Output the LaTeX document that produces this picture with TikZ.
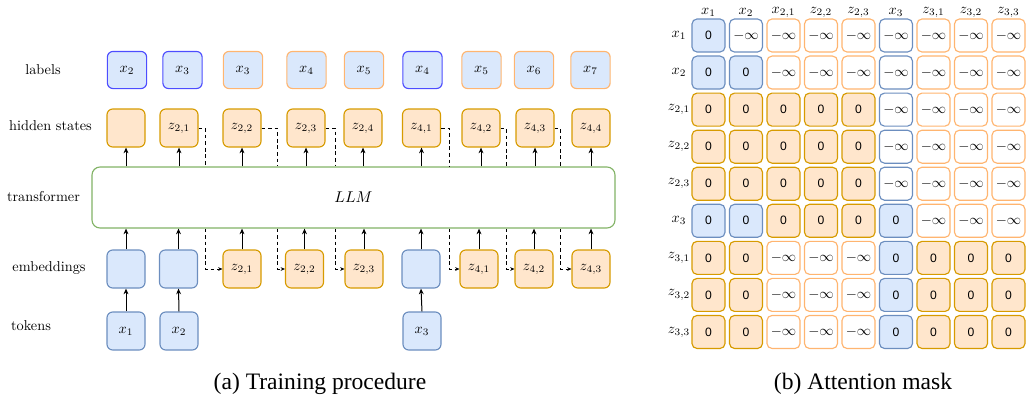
\documentclass[tikz,border=0pt]{standalone}
\usepackage{fontspec}
\newfontfamily\cellfont{Liberation Sans}
\newfontfamily\capfont{Liberation Serif}
\usetikzlibrary{arrows.meta}
\definecolor{bluefill}{HTML}{DAE8FC}
\definecolor{blueline}{HTML}{6C8EBF}
\definecolor{brightblue}{HTML}{4D4DFF}
\definecolor{orangefill}{HTML}{FFE6CC}
\definecolor{orangeline}{HTML}{D79B00}
\definecolor{paleorange}{HTML}{FFB570}
\definecolor{greenline}{HTML}{82B366}

% contents of the attention-mask cells
\newcommand\txtB{\cellfont\fontsize{8.5}{9}\selectfont 0}
\newcommand\txtO{\cellfont\fontsize{8.5}{9}\selectfont 0}
\newcommand\txtb{$-\infty$}
\newcommand\txto{$-\infty$}

\begin{document}
\begin{tikzpicture}[x=0.7pt,y=-0.7pt,
  box/.style={rounded corners=4pt, minimum width=26.6pt, minimum height=26.6pt,
    line width=0.8pt, inner sep=0pt},
  lab/.style={box, minimum width=27.5pt, minimum height=26pt},
  labblue/.style={lab, fill=bluefill, draw=brightblue},
  labpale/.style={lab, fill=bluefill, draw=paleorange},
  hid/.style={box, fill=orangefill, draw=orangeline},
  emb/.style={box, fill=bluefill, draw=blueline},
  lat/.style={box, fill=orangefill, draw=orangeline},
  tok/.style={box, fill=bluefill, draw=blueline},
  rowname/.style={inner sep=0pt},
  flow/.style={line width=0.7pt, -{Stealth[length=4pt,width=3.4pt]}},
  feed/.style={line width=0.7pt, dash pattern=on 2.6pt off 2pt},
  feedtip/.style={feed, -{Stealth[length=3pt,width=2.6pt]}},
  cell/.style={rounded corners=3.5pt, minimum width=23.1pt, minimum height=23.1pt,
    line width=0.8pt, inner sep=0pt},
  cellB/.style={cell, fill=bluefill, draw=blueline},
  cellb/.style={cell, fill=white, draw=blueline},
  cellO/.style={cell, fill=orangefill, draw=orangeline},
  cello/.style={cell, fill=white, draw=paleorange},
]
\useasboundingbox (0,0) rectangle (1028,402);

% ---------- (a) training procedure ----------
\node[rowname] (rl) at (43,70) {labels};
\node[rowname] (rh) at (50.5,126) {hidden states};
\node[rowname] (rt) at (43.5,197) {transformer};
\node[rowname] (re) at (49,268) {embeddings};
\node[rowname] (rk) at (31,326) {tokens};

% labels
\node[labblue] (l1) at (127,70)   {$x_2$};
\node[labblue] (l2) at (182.5,70) {$x_3$};
\node[labpale] (l3) at (243,70)   {$x_3$};
\node[labpale] (l4) at (306.5,70) {$x_4$};
\node[labpale] (l5) at (364,70)   {$x_5$};
\node[labblue] (l6) at (422.5,70) {$x_4$};
\node[labpale] (l7) at (481.5,70) {$x_5$};
\node[labpale] (l8) at (534,70)   {$x_6$};
\node[labpale] (l9) at (590.5,70) {$x_7$};

% hidden states
\node[hid] (h0)  at (126,128)   {};
\node[hid] (h21) at (179,128)   {$z_{2,1}$};
\node[hid] (h22) at (242,128)   {$z_{2,2}$};
\node[hid] (h23) at (306,128)   {$z_{2,3}$};
\node[hid] (h24) at (363,128)   {$z_{2,4}$};
\node[hid] (h41) at (421.5,128) {$z_{4,1}$};
\node[hid] (h42) at (481,128)   {$z_{4,2}$};
\node[hid] (h43) at (535,128)   {$z_{4,3}$};
\node[hid] (h44) at (591,128)   {$z_{4,4}$};

% transformer
\node[draw=greenline, fill=white, line width=0.8pt, rounded corners=5.6pt,
  minimum width=366.1pt, minimum height=42.7pt,
  font=\fontsize{11}{13}\selectfont] (tr) at (353.5,197.5) {$LLM$};

% embeddings
\node[emb] (e1)  at (126,269)   {};
\node[emb] (e2)  at (178.5,269) {};
\node[lat] (e21) at (242,269)   {$z_{2,1}$};
\node[lat] (e22) at (304.5,269) {$z_{2,2}$};
\node[lat] (e23) at (364,269)   {$z_{2,3}$};
\node[emb] (e3)  at (421,269)   {};
\node[lat] (e41) at (479,269)   {$z_{4,1}$};
\node[lat] (e42) at (534,269)   {$z_{4,2}$};
\node[lat] (e43) at (591,269)   {$z_{4,3}$};

% tokens
\node[tok] (t1) at (126,331) {$x_1$};
\node[tok] (t2) at (179,331) {$x_2$};
\node[tok] (t3) at (422,331) {$x_3$};

% tokens -> embeddings
\foreach \t/\e in {t1/e1, t2/e2, t3/e3}
  \draw[flow] (\t.north) -- (\e.south);
% embeddings -> transformer
\foreach \e in {e1,e2,e21,e22,e23,e3,e41,e42,e43}
  \draw[flow] (\e.north) -- (\e.north |- tr.south);
% transformer -> hidden states
\foreach \h in {h0,h21,h22,h23,h24,h41,h42,h43,h44}
  \draw[flow] (\h.south |- tr.north) -- (\h.south);

% hidden states fed back as next latent embeddings
\coordinate (c1) at (205,0);
\coordinate (c2) at (277,0);
\coordinate (c3) at (335,0);
\coordinate (c4) at (449,0);
\coordinate (c5) at (506,0);
\coordinate (c6) at (560,0);
\foreach \h/\c/\e in {h21/c1/e21, h22/c2/e22, h23/c3/e23, h41/c4/e41, h42/c5/e42, h43/c6/e43} {
  \draw[feed] (\h.east) -| (\c |- tr.north);
  \draw[feedtip] (\c |- tr.south) |- (\e.west);
}

% ---------- (b) attention mask ----------
\foreach \s [count=\i] in {$x_1$,$x_2$,$x_{2,1}$,$z_{2,2}$,$z_{2,3}$,$x_3$,$z_{3,1}$,$z_{3,2}$,$z_{3,3}$}
  \node[inner sep=0pt] (col\i) at ({708.5+37.5*(\i-1)},12) {\s};
\foreach \s [count=\j] in {$x_1$,$x_2$,$z_{2,1}$,$z_{2,2}$,$z_{2,3}$,$x_3$,$z_{3,1}$,$z_{3,2}$,$z_{3,3}$}
  \node[inner sep=0pt] (row\j) at (679,{35.5+37.06*(\j-1)}) {\s};

\foreach \r [count=\j] in {
  {B,b,o,o,o,b,o,o,o},
  {B,B,o,o,o,b,o,o,o},
  {O,O,O,O,O,b,o,o,o},
  {O,O,O,O,O,b,o,o,o},
  {O,O,O,O,O,b,o,o,o},
  {B,B,O,O,O,B,o,o,o},
  {O,O,o,o,o,B,O,O,O},
  {O,O,o,o,o,B,O,O,O},
  {O,O,o,o,o,B,O,O,O}}
  \foreach \t [count=\i] in \r
    \node[cell\t] (m-\j-\i) at ({708.5+37.5*(\i-1)},{35.5+37.06*(\j-1)}) {\csname txt\t\endcsname};

% captions
\node[font=\capfont\fontsize{16.5}{20}\selectfont] (capa) at (320,384) {(a) Training procedure};
\node[font=\capfont\fontsize{16.5}{20}\selectfont] (capb) at (863,384) {(b) Attention mask};
\end{tikzpicture}
\end{document}
